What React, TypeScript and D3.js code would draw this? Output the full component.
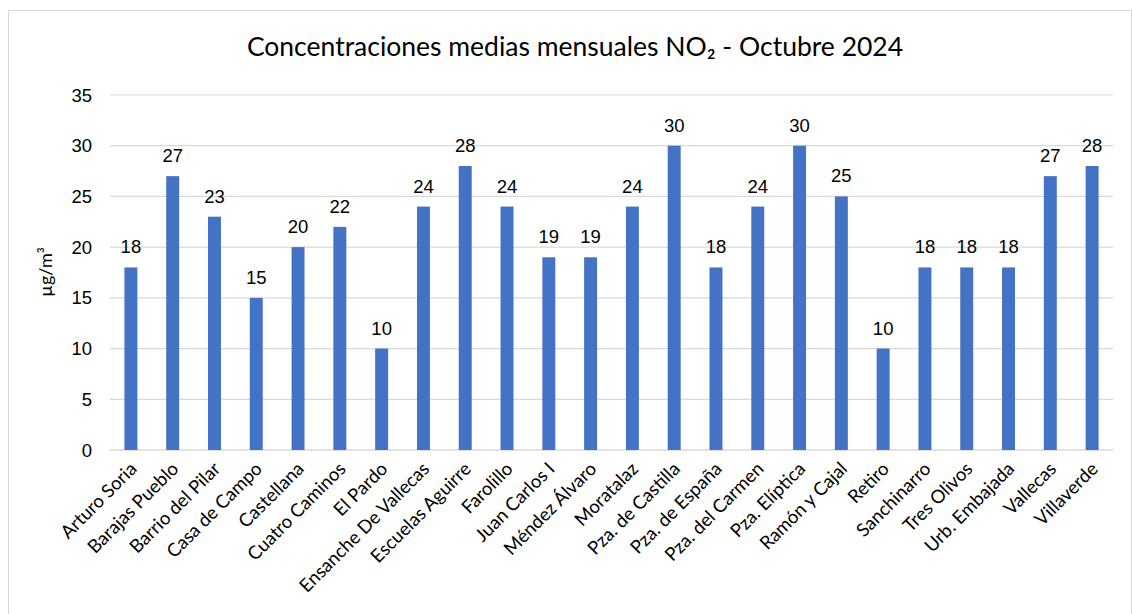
import React from "react";
import * as d3 from "d3";

const categories = [
  "Arturo Soria", "Barajas Pueblo", "Barrio del Pilar", "Casa de Campo", "Castellana",
  "Cuatro Caminos", "El Pardo", "Ensanche De Vallecas", "Escuelas Aguirre", "Farolillo",
  "Juan Carlos I", "Méndez Álvaro", "Moratalaz", "Pza. de Castilla", "Pza. de España",
  "Pza. del Carmen", "Pza. Elíptica", "Ramón y Cajal", "Retiro", "Sanchinarro",
  "Tres Olivos", "Urb. Embajada", "Vallecas", "Villaverde",
];
const values = [18, 27, 23, 15, 20, 22, 10, 24, 28, 24, 19, 19, 24, 30, 18, 24, 30, 25, 10, 18, 18, 18, 27, 28];
const yTicks = [0, 5, 10, 15, 20, 25, 30, 35];
const title = "Concentraciones medias mensuales NO₂ - Octubre 2024";
const yLabel = "µg/m³";

export default function App() {
  const W = 1133, H = 614;
  const left = 110, right = 1113, top = 95, bottom = 450;
  const x = d3.scaleBand<string>().domain(categories).range([left, right]).paddingInner(0.69).paddingOuter(0.345);
  const y = d3.scaleLinear().domain([0, 35]).range([bottom, top]);
  const bw = x.bandwidth();
  const labelFont = "Lato, 'Open Sans', sans-serif";
  const numFont = "'Liberation Sans', Arial, sans-serif";
  return (
    <svg width={W} height={H} style={{ position: "absolute", left: 0, top: 0 }}>
      <rect x={0} y={0} width={W} height={H} fill="#fff" />
      <rect x={8.5} y={10.5} width={W - 10} height={H + 10} fill="#fff" stroke="#d9d9d9" strokeWidth={1} />
      <text x={575} y={56} textAnchor="middle" fontFamily={labelFont} fontSize={26.5} fill="#000">{title}</text>
      {yTicks.map((t) => (
        <g key={t}>
          <line x1={left} x2={right} y1={y(t)} y2={y(t)} stroke="#d9d9d9" strokeWidth={t === 0 ? 1.5 : 1.2} />
          <text x={92} y={y(t) + 6.5} textAnchor="end" fontFamily={numFont} fontSize={18.5} fill="#000">{t}</text>
        </g>
      ))}
      <text transform={`translate(52,272) rotate(-90)`} textAnchor="middle" fontFamily={labelFont} fontSize={18} fill="#000">{yLabel}</text>
      {categories.map((c, i) => {
        const cx = (x(c) as number) + bw / 2;
        return (
          <g key={c}>
            <rect x={x(c)} y={y(values[i])} width={bw} height={bottom - y(values[i])} fill="#4472C4" />
            <text x={cx} y={y(values[i]) - 14} textAnchor="middle" fontFamily={numFont} fontSize={18.5} fill="#000">{values[i]}</text>
            <text transform={`translate(${cx + 7},${bottom + 20}) rotate(-45)`} textAnchor="end" fontFamily={labelFont} fontSize={18.5} fill="#000">{c}</text>
          </g>
        );
      })}
    </svg>
  );
}
